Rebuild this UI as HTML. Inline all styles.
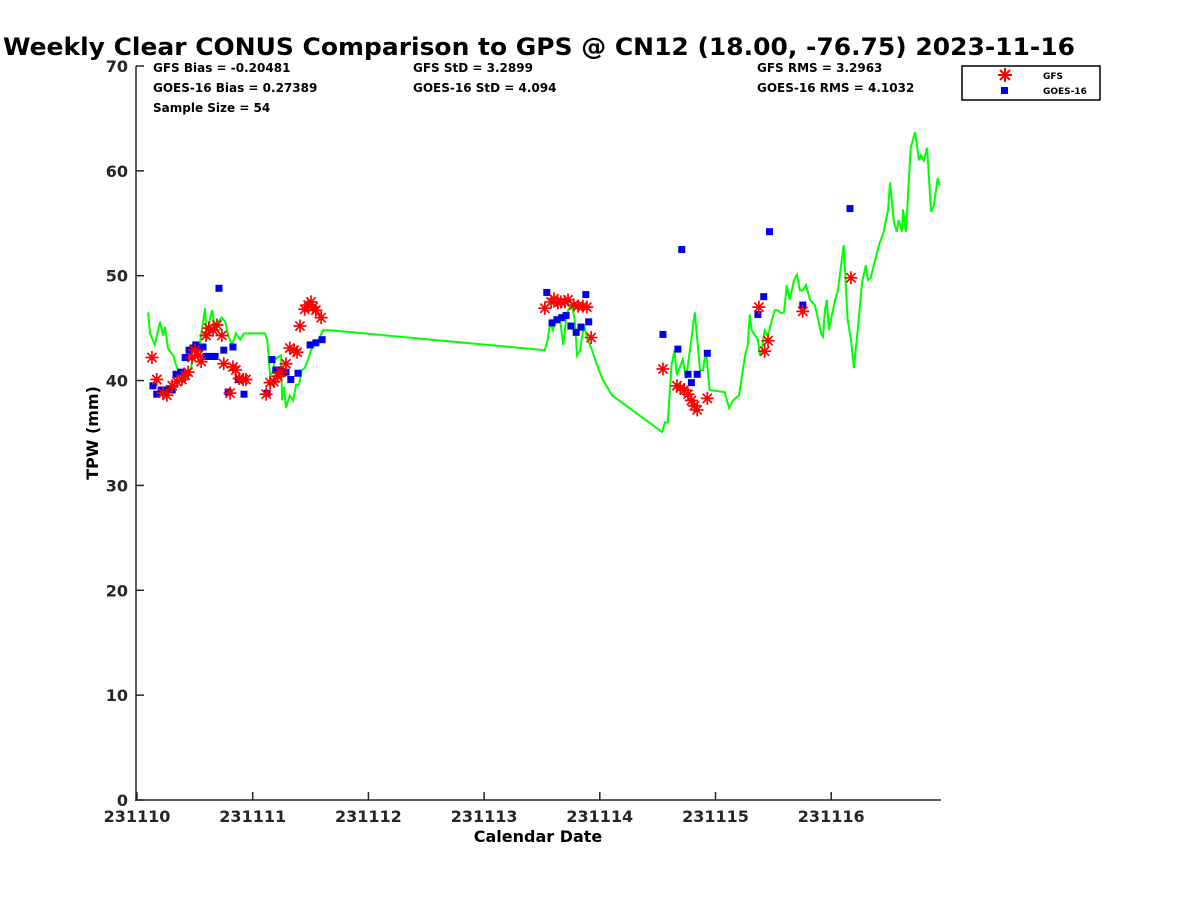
<!DOCTYPE html>
<html><head><meta charset="utf-8"><style>
body{margin:0;background:#fff;}
svg{display:block;font-family:"DejaVu Sans","Liberation Sans",sans-serif;font-weight:bold;}
</style></head><body>
<svg id="chart" width="1200" height="900" viewBox="0 0 1200 900">
<text x="3" y="55" font-size="24" textLength="1072" lengthAdjust="spacingAndGlyphs">Weekly Clear CONUS Comparison to GPS @ CN12 (18.00, -76.75) 2023-11-16</text>
<g font-size="12">
<text x="153" y="72">GFS Bias = -0.20481</text>
<text x="153" y="92">GOES-16 Bias = 0.27389</text>
<text x="153" y="112">Sample Size = 54</text>
<text x="413" y="72">GFS StD = 3.2899</text>
<text x="413" y="92">GOES-16 StD = 4.094</text>
<text x="757" y="72">GFS RMS = 3.2963</text>
<text x="757" y="92">GOES-16 RMS = 4.1032</text>
</g>
<g>
<rect x="962" y="66" width="138" height="34" fill="#fff" stroke="#000" stroke-width="1.5"/>
<g stroke="#f00" stroke-width="2"><line x1="1005" y1="68" x2="1005" y2="82"/><line x1="998" y1="75" x2="1012" y2="75"/><line x1="1000" y1="70" x2="1010" y2="80"/><line x1="1000" y1="80" x2="1010" y2="70"/></g>
<text x="1043" y="79" font-size="9">GFS</text>
<rect x="1001" y="87" width="7" height="7" fill="#00f"/>
<text x="1043" y="94" font-size="9">GOES-16</text>
</g>
<g id="axes"></g>
<g id="marks"></g>
<text x="538" y="842" text-anchor="middle" font-size="16">Calendar Date</text>
<text transform="translate(98,433) rotate(-90)" text-anchor="middle" font-size="16">TPW (mm)</text>
</svg>
<script>
const xTickLabels=["231110","231111","231112","231113","231114","231115","231116"];
const yTicks=[0,10,20,30,40,50,60,70];
const gpsHours=[2.3,2.7,3.7,4.8,5.4,5.8,6.4,7.5,8.1,8.9,9.7,11.0,12.2,13.1,14.1,14.5,15.1,15.6,16.2,16.8,17.6,18.3,18.9,19.7,20.5,21.4,22.2,23.4,26.5,27.0,27.6,28.2,28.6,29.5,29.9,30.1,30.5,30.9,31.7,32.4,33.0,33.6,34.2,34.8,35.5,36.1,36.9,37.7,38.6,40.0,84.6,85.2,85.7,86.3,86.9,87.7,88.4,89.0,89.4,90.2,90.8,91.3,91.9,92.7,93.5,94.4,95.4,96.6,98.5,108.9,109.5,110.1,110.9,111.5,112.0,113.2,113.9,114.7,115.7,116.8,117.4,118.0,118.8,121.9,122.8,123.6,124.9,126.1,126.7,127.1,127.5,128.2,128.8,129.2,129.6,130.2,130.9,131.7,132.3,132.9,133.6,134.2,134.8,135.4,136.3,136.9,137.5,138.1,138.8,139.6,140.6,141.3,141.9,142.3,142.7,143.1,143.5,144.8,145.4,146.2,146.6,147.4,148.1,148.7,149.5,150.4,151.2,151.6,152.2,153.1,153.9,154.9,155.8,156.2,157.0,157.6,158.0,158.7,158.9,159.5,160.5,161.4,162.2,162.6,163.2,163.9,164.7,165.3,166.1,166.5];
const gpsTpw=[46.5,44.5,43.4,45.6,44.3,45.1,43.1,42.4,41.5,40.5,40.2,41.0,42.9,43.7,46.9,43.9,45.8,46.7,44.8,45.6,46.0,45.6,44.3,43.4,44.5,43.9,44.5,44.5,44.5,43.9,40.5,40.8,42.0,42.3,42.4,38.1,39.4,37.4,38.6,38.1,39.6,39.6,41.0,41.2,42.0,42.9,43.4,43.9,44.8,44.8,42.9,43.9,45.5,44.8,45.8,46.0,43.4,45.8,46.7,47.2,45.8,42.4,42.9,45.3,43.9,42.9,41.5,40.1,38.6,35.1,36.0,36.0,41.5,42.9,40.5,42.0,40.2,42.9,46.5,41.0,41.0,42.9,39.1,38.9,37.4,38.1,38.6,42.3,43.4,46.3,44.8,44.3,43.9,42.4,42.9,44.8,44.2,45.8,46.7,46.7,46.4,46.5,49.1,47.7,49.6,50.1,48.6,48.6,49.1,47.7,47.2,45.8,44.5,44.2,46.7,47.7,44.8,47.7,48.6,51.5,52.9,45.8,43.9,41.2,44.8,49.4,51.0,49.6,49.8,51.5,52.9,54.2,56.3,58.9,55.1,54.2,55.3,54.2,56.3,54.2,62.2,63.7,61.0,61.5,61.0,62.2,56.1,56.7,59.3,58.6];
const gfsHours=[3.1,4.1,5.4,6.2,7.3,8.3,9.3,10.0,10.6,11.4,12.0,12.7,13.3,14.3,14.9,15.8,16.6,17.6,18.0,19.3,19.9,20.5,21.2,22.0,22.6,26.8,27.6,28.4,29.2,29.9,30.9,31.7,32.6,33.2,33.8,34.8,35.5,36.1,36.5,37.1,38.2,84.6,85.9,86.5,87.3,87.9,88.8,89.4,90.6,91.5,92.5,93.3,94.2,109.1,112.0,112.7,113.5,114.3,115.0,115.6,116.2,118.3,129.0,130.2,130.9,138.1,148.1];
const gfsTpw=[42.2,40.1,38.8,38.6,39.5,39.9,40.1,40.5,40.8,42.2,42.9,42.4,41.8,44.3,45.0,44.8,45.3,44.3,41.6,38.8,41.3,41.0,40.2,40.1,40.1,38.7,39.8,39.9,40.4,40.8,41.6,43.1,42.9,42.7,45.2,46.8,47.2,47.5,47.0,46.7,46.0,46.9,47.5,47.8,47.4,47.5,47.5,47.7,47.2,47.1,47.1,47.0,44.1,41.1,39.5,39.3,39.1,38.7,38.1,37.6,37.2,38.3,47.0,42.8,43.8,46.6,49.8];
const goesHours=[3.3,4.1,5.0,5.8,6.6,7.3,8.1,9.1,10.0,10.8,11.6,12.2,12.9,13.7,14.3,14.9,15.6,16.2,17.0,18.0,18.9,19.9,21.0,22.2,27.0,28.0,28.8,29.7,30.9,31.9,33.4,35.9,37.1,38.4,85.0,86.1,87.1,88.1,89.0,90.0,91.1,92.1,93.1,93.7,109.1,112.2,113.0,114.3,115.0,116.2,118.3,128.8,130.0,131.2,138.1,147.9];
const goesTpw=[39.5,38.7,39.1,39.1,39.1,39.1,40.6,40.8,42.2,42.9,43.1,43.4,43.1,43.2,42.3,42.3,42.3,42.3,48.8,42.9,38.9,43.2,40.1,38.7,38.8,42.0,41.0,41.0,40.8,40.1,40.7,43.4,43.6,43.9,48.4,45.5,45.8,46.0,46.2,45.2,44.6,45.1,48.2,45.6,44.4,43.0,52.5,40.6,39.8,40.6,42.6,46.3,48.0,54.2,47.2,56.4];

const NS="http://www.w3.org/2000/svg";
const X0=137,PXD=115.7,Y0=800,PXMM=10.486;
function xs(h){return X0+h*PXD/24;}
function ys(v){return Y0-v*PXMM;}
function mk(tag,attrs,parent){const e=document.createElementNS(NS,tag);for(const k in attrs)e.setAttribute(k,attrs[k]);parent.appendChild(e);return e;}
const axes=document.getElementById('axes'),marks=document.getElementById('marks');
let a=mk('line',{x1:136,y1:66,x2:136,y2:801,stroke:'#262626','stroke-width':1.5},axes);


a=mk('line',{x1:135,y1:800,x2:941,y2:800,stroke:'#262626','stroke-width':1.5},axes);


yTicks.forEach(v=>{
  const t=mk('line',{x1:136,x2:144,y1:ys(v),y2:ys(v),stroke:'#262626','stroke-width':1.5},axes);
  
  
  const l=mk('text',{x:128,y:ys(v)+6,'text-anchor':'end','font-size':16,fill:'#262626'},axes);
  l.textContent=v;
  
  
});
xTickLabels.forEach((s,i)=>{
  const x=xs(i*24);
  const t=mk('line',{x1:x,x2:x,y1:800,y2:792,stroke:'#262626','stroke-width':1.5},axes);
  
  
  const l=mk('text',{x:x,y:822,'text-anchor':'middle','font-size':16,fill:'#262626'},axes);
  l.textContent=s;
  
  
});
const pts=gpsHours.map((h,i)=>xs(h).toFixed(1)+','+ys(gpsTpw[i]).toFixed(1)).join(' ');
const line=mk('polyline',{points:pts,fill:'none',stroke:'#00ff00','stroke-width':2},marks);


goesHours.forEach((h,i)=>{
  const r=mk('rect',{x:xs(h)-3.5,y:ys(goesTpw[i])-3.5,width:7,height:7,fill:'#0000ee'},marks);
  
  
});
gfsHours.forEach((h,i)=>{
  const cx=xs(h),cy=ys(gfsTpw[i]);
  const g=mk('path',{d:`M${cx-6.5},${cy}H${cx+6.5}M${cx},${cy-6.5}V${cy+6.5}M${cx-4.6},${cy-4.6}L${cx+4.6},${cy+4.6}M${cx-4.6},${cy+4.6}L${cx+4.6},${cy-4.6}`,stroke:'#ff0000','stroke-width':1.7,fill:'none'},marks);
  
  
});
</script>
</body></html>
